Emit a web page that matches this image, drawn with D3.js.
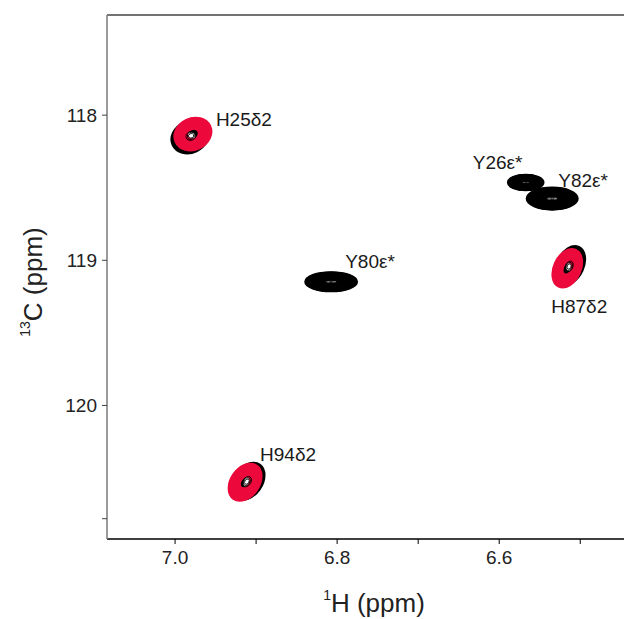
<!DOCTYPE html>
<html><head><meta charset="utf-8">
<script src="https://cdn.jsdelivr.net/npm/d3@7"></script>
<style>html,body{margin:0;padding:0;background:#fff;}svg{display:block;font-family:"Liberation Sans",Arial,sans-serif;}</style>
</head><body>
<script>
// ---- data ----
const peakNames   = ["H25δ2", "Y26ε*", "Y82ε*", "Y80ε*", "H87δ2", "H94δ2"];
const peakH       = [6.978, 6.5673, 6.5346, 6.8074, 6.516, 6.9136];   // 1H shift (ppm)
const peakC       = [118.13, 118.464, 118.575, 119.148, 119.055, 120.529]; // 13C shift (ppm)
const widthH      = [0.0235, 0.022, 0.0315, 0.032, 0.0165, 0.0175];       // half-width along 1H (ppm)
const widthC      = [0.108, 0.054, 0.076, 0.066, 0.14, 0.14];          // half-width along 13C (ppm)
const peakTilt    = [-25, 0, 0, 0, 25, 35];                              // degrees
const inRedSpectrum = [true, false, false, false, true, true];
const xMajorTicks = [7.0, 6.8, 6.6];
const xMinorTicks = [6.9, 6.7, 6.5];
const yMajorTicks = [118, 119, 120];
const yMinorTicks = [120.78];
const xDomain = [7.084, 6.446];
const yDomain = [117.31, 120.92];

// ---- layout / style (not data) ----
const W = 624, H = 619;
const m = {left:107, top:15, right:624, bottom:539};
const labelOffsets = [[23,-8],[-53,-14],[6,-12],[14,-14],[-16,45],[15,-21]];
const shadowOffsets = [[-3,3],[0,0],[0,0],[0,0],[3,-3],[3,-1]];
const RED = "#ec0a3c";

const svg = d3.select("body").append("svg").attr("width", W).attr("height", H);
const x = d3.scaleLinear().domain(xDomain).range([m.left, m.right]);
const y = d3.scaleLinear().domain(yDomain).range([m.top, m.bottom]);

svg.append("clipPath").attr("id","plotclip").append("rect")
  .attr("x", m.left).attr("y", m.top).attr("width", m.right-m.left).attr("height", m.bottom-m.top);
const plot = svg.append("g").attr("clip-path","url(#plotclip)");

const peaks = peakNames.map((n,i)=>({name:n, h:peakH[i], c:peakC[i], wh:widthH[i], wc:widthC[i],
  tilt:peakTilt[i], red:inRedSpectrum[i], lo:labelOffsets[i], so:shadowOffsets[i]}));

function drawContours(g, p, color, dx, dy, fmax, fmin, step, sw){
  const cx = x(p.h)+dx, cy = y(p.c)+dy;
  const rx = Math.abs(x(p.h+p.wh)-x(p.h)), ry = Math.abs(y(p.c+p.wc)-y(p.c));
  const levels = d3.range(fmax, fmin, -step);
  g.append("g").attr("transform",`translate(${cx},${cy}) rotate(${p.tilt})`)
    .selectAll("ellipse").data(levels).join("ellipse")
    .attr("rx", f=>rx*f).attr("ry", f=>ry*f)
    .attr("fill","none").attr("stroke", color).attr("stroke-width", sw);
}

peaks.forEach(p=>{
  if(p.red){
    drawContours(plot, p, "#000", p.so[0], p.so[1], 1.0, 0.3, 0.05, 2);
    drawContours(plot, p, RED, 0, 0, 1.0, 0.3, 0.04, 2);
    drawContours(plot, p, "#000", p.so[0]*0.6, p.so[1]*0.6, 0.28, 0.08, 0.07, 0.8);
  } else {
    drawContours(plot, p, "#000", 0, 0, 1.0, 0.2, 0.04, 2);
    drawContours(plot, p, "#000", 0, 0, 0.2, 0.05, 0.05, 0.8);
  }
});

// labels
svg.append("g").selectAll("text").data(peaks).join("text")
  .attr("x", p=>x(p.h)+p.lo[0]).attr("y", p=>y(p.c)+p.lo[1])
  .attr("font-size", 19).attr("fill","#1a1a1a").text(p=>p.name);

// frame line
svg.append("line").attr("x1",m.left).attr("x2",m.right).attr("y1",m.top).attr("y2",m.top)
  .attr("stroke","#444").attr("stroke-width",1.5);

// x axis
const xAxis = svg.append("g").attr("transform",`translate(0,${m.bottom})`);
xAxis.append("line").attr("x1",m.left).attr("x2",m.right).attr("stroke","#000").attr("stroke-width",1.5);
xAxis.selectAll("line.t").data(xMajorTicks.concat(xMinorTicks)).join("line").attr("class","t")
  .attr("x1",d=>x(d)).attr("x2",d=>x(d)).attr("y1",0).attr("y2",5).attr("stroke","#000").attr("stroke-width",1);
xAxis.selectAll("text").data(xMajorTicks).join("text")
  .attr("x",d=>x(d)).attr("y",25).attr("text-anchor","middle").attr("font-size",19).attr("fill","#222")
  .text(d=>d3.format(".1f")(d));

// y axis
const yAxis = svg.append("g").attr("transform",`translate(${m.left},0)`);
yAxis.append("line").attr("y1",m.top).attr("y2",m.bottom).attr("stroke","#7a7a7a").attr("stroke-width",1.5);
yAxis.selectAll("line.t").data(yMajorTicks.concat(yMinorTicks)).join("line").attr("class","t")
  .attr("y1",d=>y(d)).attr("y2",d=>y(d)).attr("x1",-5).attr("x2",0).attr("stroke","#444").attr("stroke-width",1);
yAxis.selectAll("text").data(yMajorTicks).join("text")
  .attr("x",-10).attr("y",d=>y(d)).attr("dy","0.35em").attr("text-anchor","end").attr("font-size",19).attr("fill","#222")
  .text(d=>d);

// axis titles
const xt = svg.append("text").attr("x",374).attr("y",612).attr("text-anchor","middle").attr("font-size",26).attr("fill","#222");
xt.append("tspan").attr("font-size",14).attr("dy",-12).text("1");
xt.append("tspan").attr("dy",12).text("H (ppm)");

const yt = svg.append("text").attr("transform","translate(42,282) rotate(-90)").attr("text-anchor","middle").attr("font-size",26).attr("fill","#222");
yt.append("tspan").attr("font-size",14).attr("dy",-12).text("13");
yt.append("tspan").attr("dy",12).text("C (ppm)");
</script>
</body></html>
